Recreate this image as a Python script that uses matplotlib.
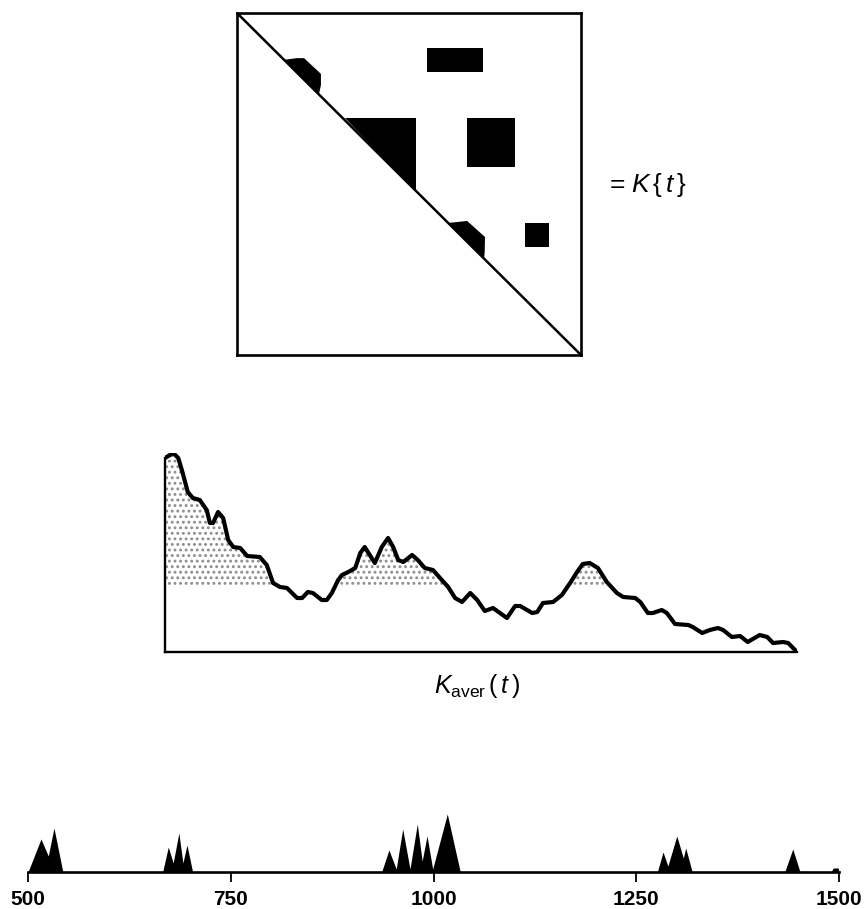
import matplotlib

matplotlib.use("Agg")

import numpy as np
import matplotlib.pyplot as plt
from matplotlib.patches import Polygon, Rectangle

plt.rcParams["font.family"] = ["Liberation Sans", "DejaVu Sans"]
plt.rcParams["mathtext.fontset"] = "custom"
plt.rcParams["mathtext.rm"] = "Liberation Sans"
plt.rcParams["mathtext.it"] = "Liberation Sans:italic"
plt.rcParams["hatch.linewidth"] = 1.3

# K{t} matrix, time units on both axes
t_range = (500, 1500)
block_rects = [  # (t_x0, t_x1, t_y0, t_y1)
    (1052, 1215, 602, 673),
    (1169, 1308, 807, 950),
    (1337, 1407, 1114, 1184),
]
block_polys = [
    [(637, 637), (674, 632), (695, 632), (744, 678), (744, 711), (738, 738)],
    [(814, 807), (1020, 807), (1020, 1023)],
    [(1114, 1114), (1169, 1108), (1221, 1155), (1220, 1200), (1218, 1218)],
]

# K_aver(t)
t_aver = [500, 513, 521, 528, 536, 544, 555, 566, 571, 576, 584, 592, 600, 608,
          619, 630, 650, 661, 671, 682, 693, 709, 717, 726, 734, 748, 756, 764,
          774, 780, 790, 801, 809, 816, 824, 832, 843, 853, 861, 869, 877, 891,
          900, 911, 924, 938, 948, 959, 970, 983, 994, 1006, 1019, 1041, 1054,
          1062, 1081, 1089, 1098, 1114, 1128, 1141, 1152, 1161, 1172, 1185, 1199,
          1215, 1225, 1244, 1252, 1264, 1272, 1286, 1294, 1307, 1328, 1335, 1350,
          1362, 1375, 1383, 1397, 1410, 1422, 1441, 1453, 1462, 1478, 1486, 1500]
k_aver = [194, 199, 194, 179, 160, 154, 152, 142, 129, 129, 140, 134, 112, 105,
          104, 96, 95, 87, 69, 65, 64, 54, 54, 60, 59, 52, 52, 59,
          72, 77, 80, 84, 99, 105, 97, 89, 105, 114, 105, 92, 90, 97,
          92, 84, 82, 72, 65, 54, 50, 59, 52, 41, 44, 34, 46,
          46, 39, 40, 49, 50, 57, 69, 80, 88, 89, 84, 70,
          59, 55, 54, 50, 39, 39, 42, 39, 28, 27, 25, 19,
          22, 24, 22, 15, 16, 10, 17, 15, 9, 10, 9, 0]
k_threshold = 66

# detected segments
t_peaks = [500, 516, 525, 532, 543,
           666, 673, 679, 686, 691, 696, 703,
           936, 945, 954, 962, 971, 980, 986, 992, 999, 1017, 1033,
           1276, 1283, 1289, 1300, 1308, 1311, 1319,
           1433, 1443, 1452,
           1490, 1493, 1499, 1500]
h_peaks = [0, 33, 16, 44, 0,
           0, 25, 9, 39, 9, 27, 0,
           0, 22, 3, 43, 3, 48, 11, 36, 3, 58, 0,
           0, 20, 6, 36, 14, 24, 0,
           0, 23, 0,
           0, 4, 4, 0]
tick_values = [500, 750, 1000, 1250, 1500]

W, H = 865, 909
fig = plt.figure(figsize=(W / 100, H / 100), dpi=100)

# top: matrix
ax = fig.add_axes([237 / W, 1 - 355 / H, 344 / W, 342 / H])
ax.set_xlim(*t_range)
ax.set_ylim(t_range[1], t_range[0])
for x0, x1, y0, y1 in block_rects:
    ax.add_patch(Rectangle((x0, y0), x1 - x0, y1 - y0, color="black", lw=0))
for pts in block_polys:
    ax.add_patch(Polygon(pts, closed=True, color="black", lw=0))
ax.plot(t_range, t_range, color="black", lw=1.8)
ax.set_xticks([])
ax.set_yticks([])
for s in ax.spines.values():
    s.set_linewidth(1.9)

fig.text(609 / W, 1 - 185 / H, r"= $K\,\{\,t\,\}$", fontsize=19, va="center", ha="left")

# middle: K_aver
t_aver = np.array(t_aver)
k_aver = np.array(k_aver)
ax = fig.add_axes([165 / W, 1 - 652 / H, 632 / W, 199 / H])
ax.set_xlim(*t_range)
ax.set_ylim(0, 199)
ax.fill_between(t_aver, k_aver, k_threshold, where=k_aver >= k_threshold,
                interpolate=True, facecolor="none", hatch="...",
                edgecolor="#8c8c8c", lw=0)
ax.plot(t_aver, k_aver, color="black", lw=3.0, solid_joinstyle="round",
        solid_capstyle="round")
ax.spines["top"].set_visible(False)
ax.spines["right"].set_visible(False)
ax.spines["left"].set_linewidth(1.7)
ax.spines["bottom"].set_linewidth(1.7)
ax.spines["left"].set_bounds(0, k_aver[0])
ax.set_xticks([])
ax.set_yticks([])

fig.text(477 / W, 1 - 686 / H, r"$K_{\mathrm{aver}}\,(\,t\,)$", fontsize=18,
         ha="center", va="center")

# bottom: segments
ax = fig.add_axes([28 / W, 1 - 872 / H, 811 / W, 100 / H])
ax.set_xlim(*t_range)
ax.set_ylim(0, 100)
ax.fill_between(t_peaks, h_peaks, 0, color="black", lw=0)
for side in ["top", "right", "left"]:
    ax.spines[side].set_visible(False)
ax.spines["bottom"].set_linewidth(1.9)
ax.set_xticks(tick_values)
ax.set_xticklabels([str(v) for v in tick_values])
ax.set_yticks([])
ax.tick_params(axis="x", direction="out", length=7, width=1.3, labelsize=15, pad=6)
for lbl in ax.get_xticklabels():
    lbl.set_fontweight("bold")

fig.savefig("out.png", dpi=100)
